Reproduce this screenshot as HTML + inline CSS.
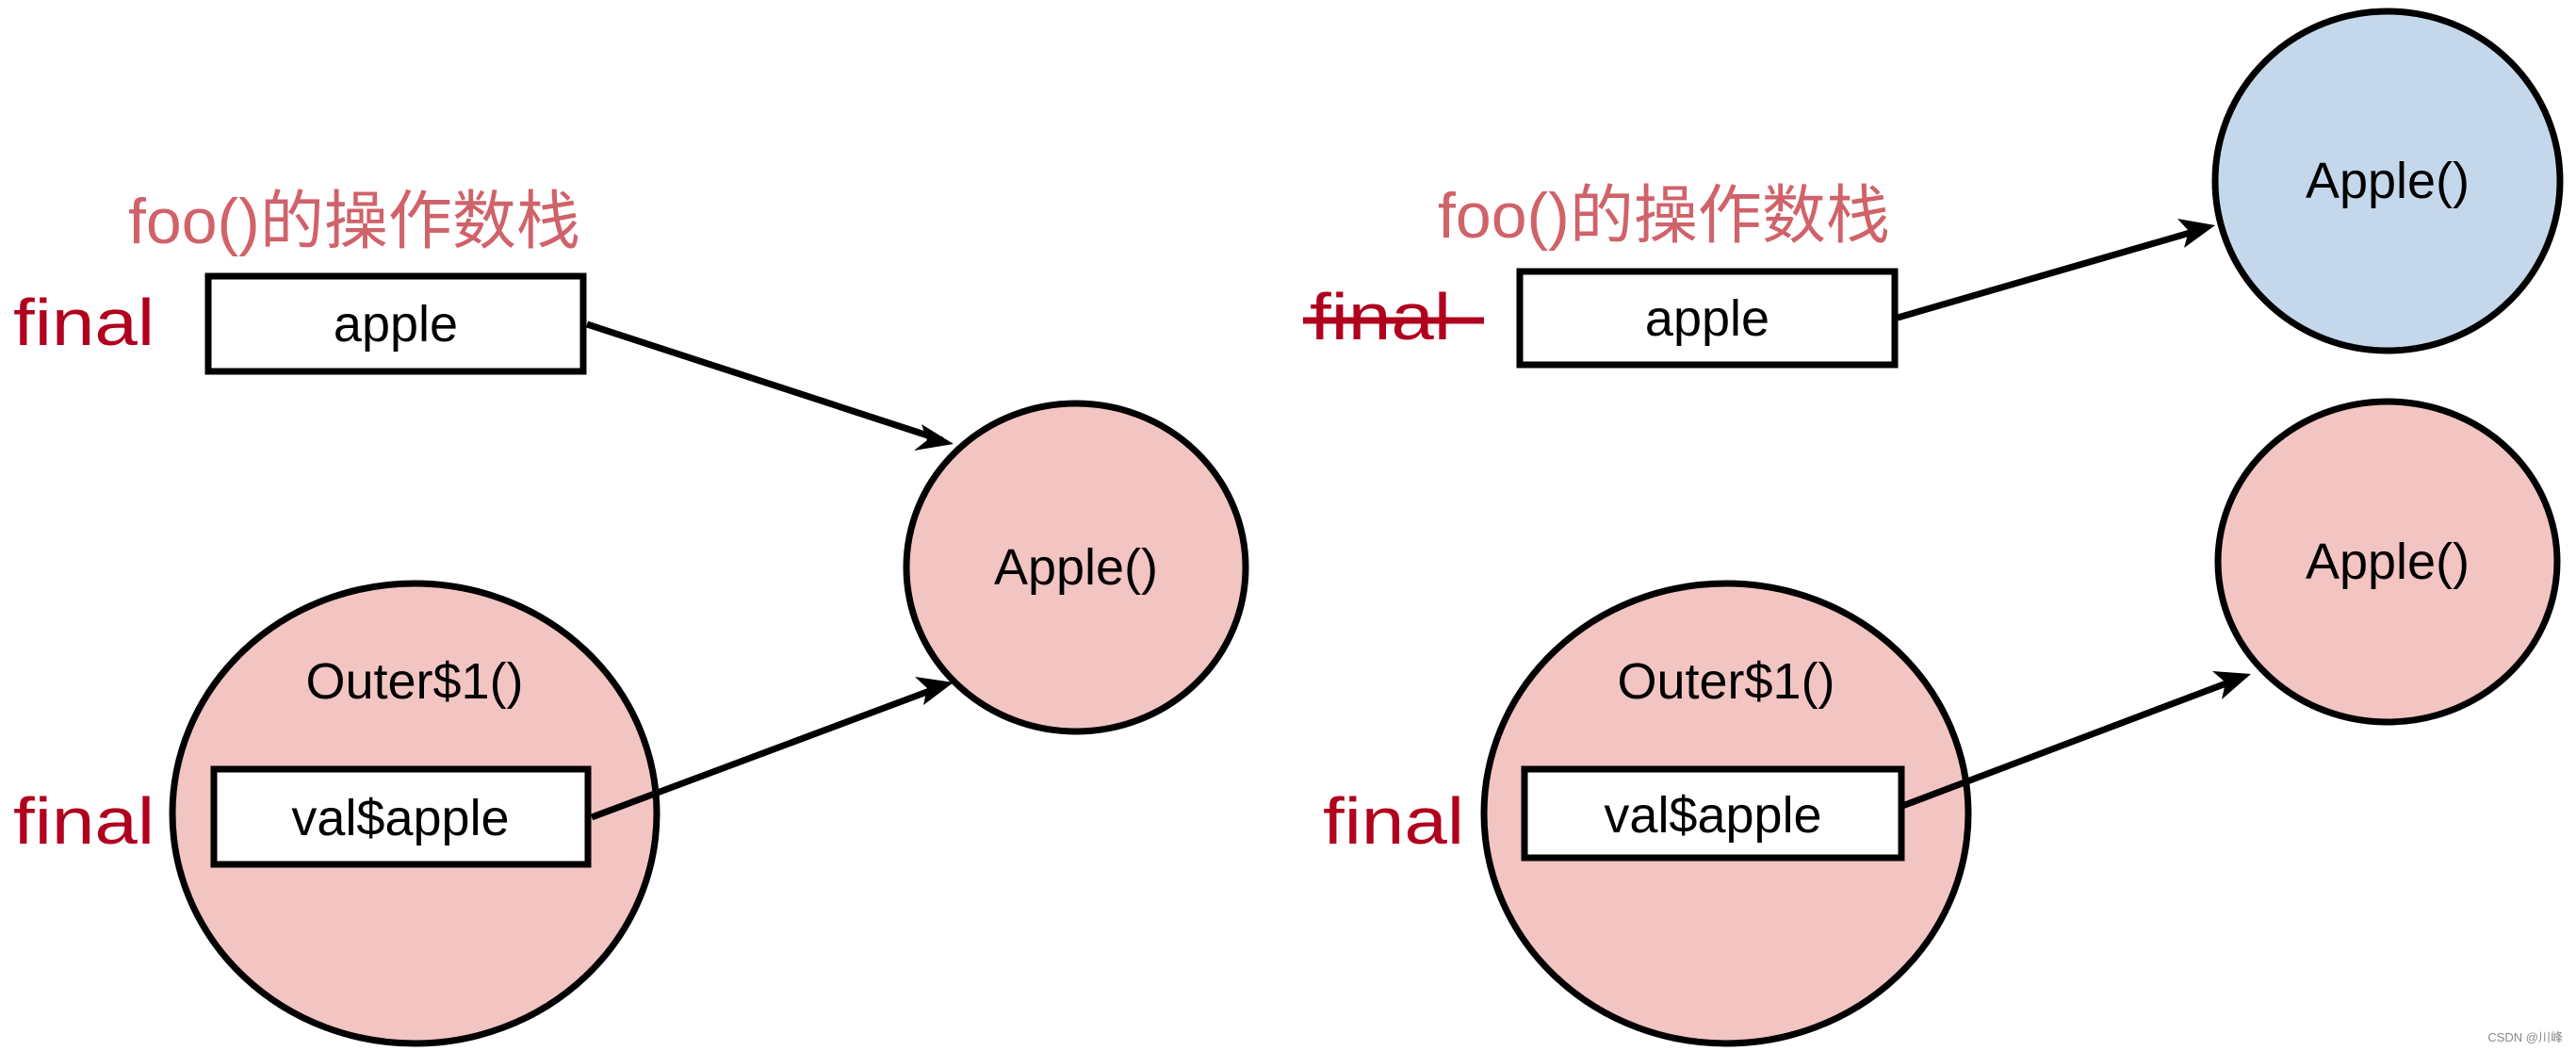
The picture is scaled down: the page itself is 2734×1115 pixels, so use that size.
<!DOCTYPE html>
<html><head><meta charset="utf-8"><style>html,body{margin:0;padding:0;background:#fff}svg{display:block}</style></head>
<body>
<svg width="2734" height="1115" viewBox="0 0 2734 1115" xmlns="http://www.w3.org/2000/svg" font-family="'Liberation Sans','Noto Sans CJK SC',sans-serif">
<defs>
<marker id="ah" markerWidth="10" markerHeight="10" refX="9" refY="5" orient="auto" markerUnits="userSpaceOnUse" viewBox="0 0 10 10">
</marker>
</defs>
<g stroke="#000" stroke-width="7">
<!-- left -->
<ellipse cx="1142" cy="602" rx="180" ry="174" fill="#f2c4c2"/>
<ellipse cx="440" cy="863" rx="257" ry="244" fill="#f2c4c2"/>
<rect x="221" y="293" width="398" height="101" fill="#fff"/>
<rect x="227" y="816" width="397" height="101" fill="#fff"/>
<!-- right -->
<ellipse cx="2534" cy="192" rx="183" ry="180" fill="#c5d7ea"/>
<ellipse cx="2534" cy="596" rx="180" ry="170" fill="#f2c4c2"/>
<ellipse cx="1832" cy="863" rx="257" ry="244" fill="#f2c4c2"/>
<rect x="1613" y="288" width="398" height="99" fill="#fff"/>
<rect x="1618" y="816" width="400" height="94" fill="#fff"/>
<!-- arrows -->
<line x1="623" y1="344" x2="1000" y2="467"/>
<line x1="628" y1="867" x2="1000" y2="728"/>
<line x1="2014" y1="337" x2="2338" y2="243"/>
<line x1="2019" y1="855" x2="2376" y2="720"/>
</g>
<g fill="#000">
<polygon points="1012,471 978,450 984,467 970,478"/>
<polygon points="1012,724 971,718 984,730 980,748"/>
<polygon points="2351,239 310,230 0,0" display="none"/>
<polygon points="2351,239 2311,232 2323,245 2318,263"/>
<polygon points="2389,715 2348,712 2362,724 2358,742"/>
</g>
<g font-size="68" fill="#d0626a">
<text x="136" y="258">foo()的操作数栈</text>
<text x="1526" y="252">foo()的操作数栈</text>
</g>
<g font-size="70" fill="#b0001e">
<text x="14" y="366" textLength="150" lengthAdjust="spacingAndGlyphs">final</text>
<text x="14" y="895" textLength="150" lengthAdjust="spacingAndGlyphs">final</text>
<text x="1404" y="895" textLength="150" lengthAdjust="spacingAndGlyphs">final</text>
<text x="1390" y="360" textLength="150" lengthAdjust="spacingAndGlyphs">final</text>
</g>
<line x1="1383" y1="340" x2="1575" y2="340" stroke="#b0001e" stroke-width="7"/>
<g font-size="54" fill="#000" text-anchor="middle">
<text x="420" y="362">apple</text>
<text x="1812" y="356">apple</text>
<text x="425" y="886">val$apple</text>
<text x="1818" y="883">val$apple</text>
<text x="440" y="741">Outer$1()</text>
<text x="1832" y="741">Outer$1()</text>
<text x="1142" y="620">Apple()</text>
<text x="2534" y="210">Apple()</text>
<text x="2534" y="614">Apple()</text>
</g>
<text x="2720" y="1105" font-size="13" fill="#888" text-anchor="end">CSDN @川峰</text>
</svg>
</body></html>
